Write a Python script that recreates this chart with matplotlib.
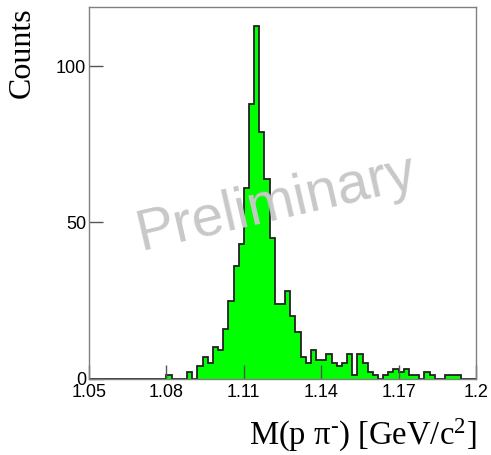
import numpy as np
import matplotlib
matplotlib.use('Agg')
import matplotlib.pyplot as plt

# histogram of M(p pi-), 75 bins from 1.05 to 1.2 GeV/c^2
x_min = 1.05
x_max = 1.2
n_bins = 75
counts = [0] * 15 + [1, 0, 0, 0, 2, 0,
                     4, 7, 5, 10, 9, 16, 25, 36, 43, 61,
                     88, 113, 79, 64, 45, 24, 24, 28, 20, 15,
                     7, 5, 9, 6, 6, 8, 5, 4, 5, 8,
                     1, 8, 5, 2, 1, 0, 1, 2, 3, 2,
                     3, 1, 1, 0, 2, 1, 0, 0, 1, 1,
                     1, 0, 0, 0]

xticks = [1.05, 1.08, 1.11, 1.14, 1.17, 1.2]
xtick_labels = ['1.05', '1.08', '1.11', '1.14', '1.17', '1.2']
yticks = [0, 50, 100]

plt.rcParams['mathtext.fontset'] = 'custom'
plt.rcParams['mathtext.rm'] = 'Liberation Serif'
plt.rcParams['mathtext.it'] = 'Liberation Serif:italic'

fig = plt.figure(figsize=(4.91, 4.55), dpi=100)
ax = fig.add_axes([0.1813, 0.168, 0.7882, 0.8166])

edges = np.linspace(x_min, x_max, n_bins + 1)
ax.stairs(counts, edges, fill=True, color='#00ff00', zorder=1)
ax.stairs(counts, edges, fill=False, color='#222222', lw=1.3, zorder=1.5)

ax.set_xlim(x_min, x_max)
ax.set_ylim(0, 119)

ax.set_xticks(xticks)
ax.set_xticklabels(xtick_labels)
ax.set_yticks(yticks)
ax.tick_params(direction='in', length=10, width=1, color='#555555',
               labelsize=13, labelfontfamily='Liberation Sans', pad=4)
ax.tick_params(axis='y', pad=2)

for s in ax.spines.values():
    s.set_color('#808080')
    s.set_linewidth(1)

serif = ['Liberation Serif', 'DejaVu Serif']

ax.set_ylabel('Counts', family=serif, fontsize=23)
ax.yaxis.set_label_coords(-0.135, 1.0)
ax.yaxis.label.set_horizontalalignment('right')

ax.set_xlabel(r'M(p π$^{\text{-}}$) [GeV/c$^{2}$]', family=serif, fontsize=23.5)
ax.xaxis.set_label_coords(1.0, -0.178)
ax.xaxis.label.set_horizontalalignment('right')
ax.xaxis.label.set_verticalalignment('baseline')

# watermark
fig.text(0.562, 0.552, 'Preliminary', family='Liberation Sans', fontsize=41,
         color='#c8c8c8', rotation=13, ha='center', va='center')

fig.savefig('out.png', dpi=100)
